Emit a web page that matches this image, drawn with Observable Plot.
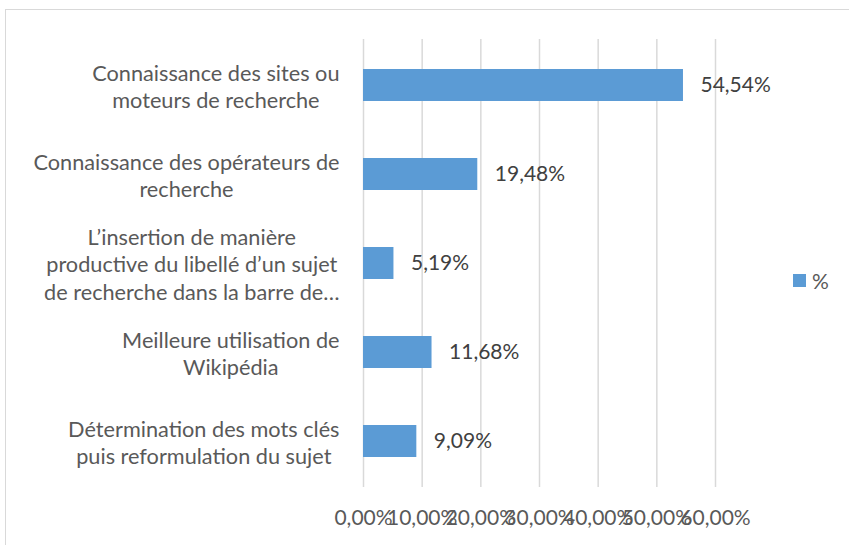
<!DOCTYPE html>
<html><head><meta charset="utf-8">
<script src="https://cdn.jsdelivr.net/npm/d3@7"></script>
<script src="https://cdn.jsdelivr.net/npm/@observablehq/plot@0.6"></script>
<style>
body{margin:0;background:#fff;overflow:hidden;}
#wrap{position:relative;width:849px;height:545px;overflow:hidden;font-family:Lato,sans-serif;}
#frame{position:absolute;left:5px;top:9px;width:900px;height:600px;border:1.5px solid #d9d9d9;box-sizing:border-box;}
#wrap svg{position:absolute;left:0;top:0;}
#legend{position:absolute;left:793px;top:268px;display:flex;align-items:center;font-size:21px;color:#595959;}
#legend .sw{width:13px;height:13px;margin-right:6px;}
</style></head>
<body><div id="wrap"><div id="frame"></div></div>
<script>
const categories = [
  "Connaissance des sites ou\nmoteurs de recherche",
  "Connaissance des opérateurs de\nrecherche",
  "L’insertion de manière\nproductive du libellé d’un sujet\nde recherche dans la barre de…",
  "Meilleure utilisation de\nWikipédia",
  "Détermination des mots clés\npuis reformulation du sujet"
];
const values = [54.54, 19.48, 5.19, 11.68, 9.09];
const xTicks = [0, 10, 20, 30, 40, 50, 60];
const seriesName = "%";
const barColor = "#5B9BD5";

const data = categories.map((c, i) => ({category: c, value: values[i]}));
const fmt = v => v.toFixed(2).replace(".", ",") + "%";
const FS = 21;
const FSY = 21.7;

const chart = Plot.plot({
  width: 849, height: 545,
  marginTop: 39, marginBottom: 58, marginLeft: 363, marginRight: 134,
  style: {fontFamily: "Lato, sans-serif", fontSize: FS + "px", background: "transparent", color: "#595959"},
  x: {domain: [0, 60], ticks: xTicks, label: null},
  y: {domain: categories, paddingInner: 0.64, paddingOuter: 0.32, label: null},
  color: {domain: [seriesName], range: [barColor]},
  marks: [
    Plot.gridX(xTicks, {stroke: "#d9d9d9", strokeOpacity: 1, strokeWidth: 1.5}),
    Plot.barX(data, {x: "value", y: "category", fill: barColor}),
    Plot.text(data, {x: "value", y: "category", text: d => fmt(d.value), textAnchor: "start", dx: 17, fill: "#404040"}),
    Plot.axisX({ticks: xTicks, tickFormat: fmt, tickSize: 0, tickPadding: 23, fill: "#595959", label: null}),
    Plot.axisY({tickSize: 0, tickPadding: 24, lineHeight: 27.5 / FSY, fontSize: FSY, fill: "#595959", label: null, textAnchor: "end"})
  ]
});
const wrap = document.getElementById("wrap");
wrap.appendChild(chart);

// center each wrapped line within its label block (right-aligned block)
chart.querySelectorAll('g[aria-label="y-axis tick label"] text').forEach(t => {
  const spans = t.querySelectorAll("tspan");
  const parts = spans.length ? Array.from(spans) : [t];
  const maxW = Math.max(...parts.map(p => p.getComputedTextLength()));
  t.setAttribute("text-anchor", "middle");
  parts.forEach(p => p.setAttribute("x", -maxW / 2));
});

const leg = document.createElement("div");
leg.id = "legend";
leg.innerHTML = `<div class="sw" style="background:${barColor}"></div><span>${seriesName}</span>`;
wrap.appendChild(leg);
</script>
</body></html>
